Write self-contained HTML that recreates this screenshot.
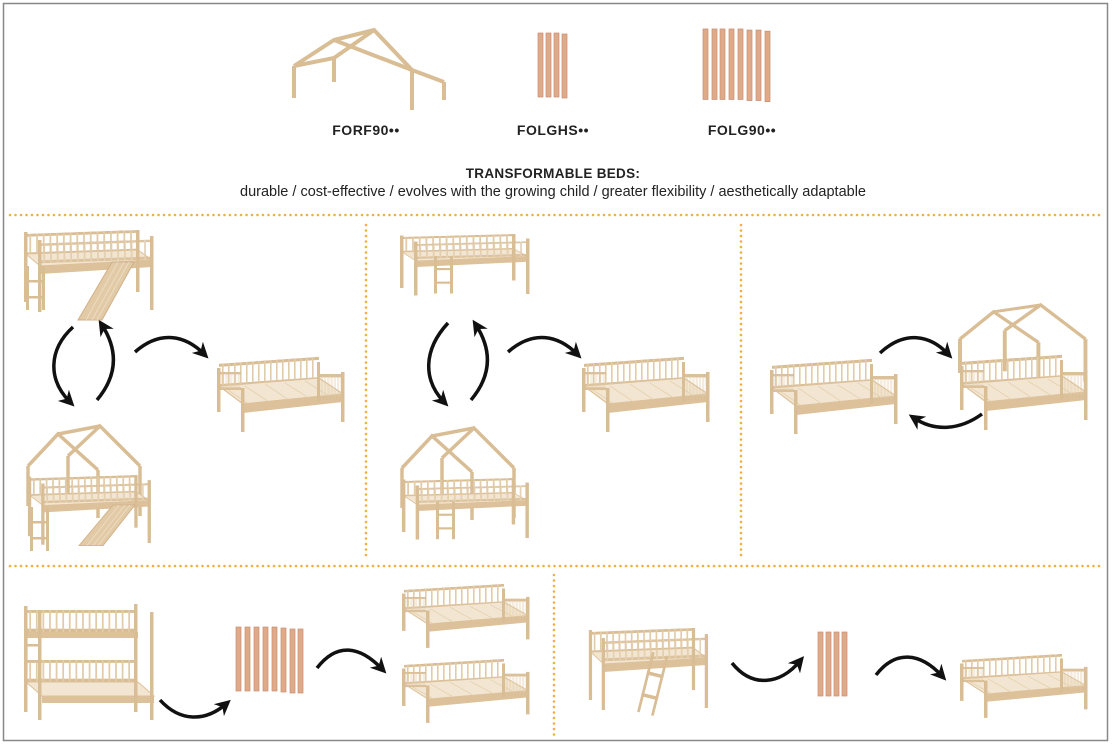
<!DOCTYPE html>
<html><head><meta charset="utf-8"><style>
html,body{margin:0;padding:0;background:#fff;}
body{width:1116px;height:752px;overflow:hidden;position:relative;font-family:"Liberation Sans",sans-serif;}
svg{position:absolute;left:0;top:0;}
</style></head><body>
<svg width="1116" height="752" viewBox="0 0 1116 752" xmlns="http://www.w3.org/2000/svg">
<defs>
<symbol id="rail" viewBox="0 0 100 20" preserveAspectRatio="none">
<rect x="0" y="0" width="100" height="2.6" fill="#d9bd95"/>
<rect x="0" y="17" width="100" height="3" fill="#d9bd95"/>
<g fill="#e2cba9">
<rect x="3" y="0" width="1.6" height="20"/><rect x="9" y="0" width="1.6" height="20"/><rect x="15" y="0" width="1.6" height="20"/><rect x="21" y="0" width="1.6" height="20"/><rect x="27" y="0" width="1.6" height="20"/><rect x="33" y="0" width="1.6" height="20"/><rect x="39" y="0" width="1.6" height="20"/><rect x="45" y="0" width="1.6" height="20"/><rect x="51" y="0" width="1.6" height="20"/><rect x="57" y="0" width="1.6" height="20"/><rect x="63" y="0" width="1.6" height="20"/><rect x="69" y="0" width="1.6" height="20"/><rect x="75" y="0" width="1.6" height="20"/><rect x="81" y="0" width="1.6" height="20"/><rect x="87" y="0" width="1.6" height="20"/><rect x="93" y="0" width="1.6" height="20"/>
</g>
</symbol>
<g id="daybed">
<use href="#rail" x="4" y="6" width="100" height="24" transform="skewY(-4)"/>
<polygon points="4,28 104,20 128,36 28,46" fill="#f2e6d2" stroke="#dcc19b" stroke-width="1.2"/>
<g stroke="#e6d2b2" stroke-width="1"><line x1="10" y1="30" x2="34" y2="46"/><line x1="30" y1="28" x2="54" y2="44"/><line x1="50" y1="26" x2="74" y2="42"/><line x1="70" y1="25" x2="94" y2="40"/><line x1="90" y1="23" x2="114" y2="38"/></g>
<polygon points="28,46 128,36 128,44 28,55" fill="#dcc19b"/>
<use href="#rail" x="4" y="14" width="22" height="18"/>
<use href="#rail" x="104" y="16" width="24" height="26"/>
<rect x="2" y="10" width="3.5" height="44" fill="#d9bd95"/>
<rect x="26" y="30" width="3.5" height="44" fill="#d9bd95"/>
<rect x="102" y="4" width="3" height="40" fill="#d9bd95"/>
<rect x="126" y="14" width="3.5" height="50" fill="#d9bd95"/>
</g>
<g id="loft">
<use href="#rail" x="4" y="4" width="112" height="22" transform="skewY(-2)"/>
<polygon points="4,24 116,20 130,30 18,36" fill="#f2e6d2" stroke="#dcc19b" stroke-width="1"/>
<polygon points="18,36 130,30 130,37 18,44" fill="#dcc19b"/>
<use href="#rail" x="18" y="14" width="112" height="20" transform="skewY(-2)" opacity="0.85"/>
<rect x="2" y="2" width="3.5" height="70" fill="#d9bd95"/>
<rect x="16" y="10" width="3.5" height="72" fill="#d9bd95"/>
<rect x="114" y="0" width="3.5" height="62" fill="#d9bd95"/>
<rect x="128" y="6" width="3.5" height="74" fill="#d9bd95"/>
</g>
<g id="slide">
<polygon points="0,0 22,0 -10,58 -34,58" fill="#e2caa6" stroke="#d0b088" stroke-width="1"/>
<g stroke="#ecdcc2" stroke-width="1"><line x1="6" y1="0" x2="-26" y2="58"/><line x1="12" y1="0" x2="-20" y2="58"/><line x1="17" y1="0" x2="-15" y2="58"/></g>
</g>
<g id="ladder" fill="#d9bd95">
<rect x="0" y="0" width="3" height="44"/><rect x="16" y="0" width="3" height="44"/>
<rect x="0" y="14" width="19" height="2.5"/><rect x="0" y="30" width="19" height="2.5"/>
</g>
<g id="roof" fill="none" stroke="#d9bd95" stroke-width="3.5">
<polyline points="0,40 30,8 70,44"/><polyline points="30,8 72,0"/><polyline points="40,30 72,0 112,40"/>
<line x1="0" y1="40" x2="0" y2="80"/><line x1="40" y1="30" x2="40" y2="78"/><line x1="112" y1="40" x2="112" y2="90"/><line x1="70" y1="44" x2="70" y2="92"/>
</g>
<g id="plank"><rect width="5" height="64" fill="#dfaa8a" stroke="#c98e70" stroke-width="0.7"/></g>
<marker id="ah" viewBox="0 0 10 10" refX="6" refY="5" markerWidth="4.5" markerHeight="4.5" orient="auto"><path d="M0,0 L10,5 L0,10 L3,5 z" fill="#111"/></marker>
</defs>

<rect x="3.5" y="3.5" width="1104" height="737" fill="none" stroke="#888" stroke-width="1.5"/>

<g transform="translate(294,30)">
<g fill="none" stroke="#d9bd95" stroke-width="4">
<polyline points="0,36 40,10 80,0 118,40 150,52"/><polyline points="0,36 40,28 80,0"/><line x1="40" y1="10" x2="118" y2="40"/>
<line x1="0" y1="36" x2="0" y2="68"/><line x1="40" y1="28" x2="40" y2="52"/><line x1="118" y1="40" x2="118" y2="80"/><line x1="150" y1="52" x2="150" y2="70"/>
</g>
</g>
<g transform="translate(538,33)"><use href="#plank"/><use href="#plank" x="8"/><use href="#plank" x="16"/><use href="#plank" x="24" y="1"/></g>
<g transform="translate(703,29)"><use href="#plank" transform="scale(1,1.1)"/><use href="#plank" x="9" transform="scale(1,1.1)"/><use href="#plank" x="17" transform="scale(1,1.1)"/><use href="#plank" x="26" transform="scale(1,1.1)"/><use href="#plank" x="35" transform="scale(1,1.1)"/><use href="#plank" x="44" y="1" transform="scale(1,1.1)"/><use href="#plank" x="53" y="1" transform="scale(1,1.1)"/><use href="#plank" x="62" y="2" transform="scale(1,1.1)"/></g>

<g font-family="Liberation Sans, sans-serif" fill="#222" text-anchor="middle">
<text x="366" y="135" font-size="14" font-weight="bold" letter-spacing="0.5">FORF90••</text>
<text x="553" y="135" font-size="14" font-weight="bold" letter-spacing="0.5">FOLGHS••</text>
<text x="742" y="135" font-size="14" font-weight="bold" letter-spacing="0.5">FOLG90••</text>
<text x="553" y="178" font-size="13.5" font-weight="bold" letter-spacing="0.3">TRANSFORMABLE BEDS:</text>
<text x="553" y="196" font-size="14.5">durable / cost-effective / evolves with the growing child / greater flexibility / aesthetically adaptable</text>
</g>

<g stroke="#f0b040" stroke-width="2.6" stroke-linecap="round" stroke-dasharray="0 5.5" fill="none">
<line x1="10" y1="215" x2="1100" y2="215"/>
<line x1="366" y1="225" x2="366" y2="560"/>
<line x1="741" y1="225" x2="741" y2="560"/>
<line x1="10" y1="566" x2="1100" y2="566"/>
<line x1="554" y1="575" x2="554" y2="735"/>
</g>

<g fill="none" stroke="#111" stroke-width="3.5" marker-end="url(#ah)">
<path d="M73,327 C48,350 48,380 70,402"/>
<path d="M97,400 C118,375 118,350 102,325"/>
<path d="M135,352 C160,330 185,335 204,354"/>
<path d="M448,323 C423,350 423,380 444,402"/>
<path d="M471,400 C492,375 492,350 476,325"/>
<path d="M508,352 C533,330 558,335 577,354"/>
<path d="M880,353 C905,330 930,335 948,354"/>
<path d="M982,414 C960,430 935,432 914,418"/>
<path d="M160,700 C180,722 205,722 226,704"/>
<path d="M317,668 C337,642 360,646 382,669"/>
<path d="M732,663 C752,688 780,685 800,661"/>
<path d="M876,675 C895,650 920,652 942,676"/>
</g>

<g transform="translate(22,230)"><use href="#loft"/><use href="#ladder" x="4" y="36"/></g>
<g transform="translate(112,262)"><use href="#slide"/></g>
<g transform="translate(215,358)"><use href="#daybed"/></g>
<g transform="translate(28,426)"><use href="#roof"/></g>
<g transform="translate(26,475)"><use href="#loft" transform="scale(0.95,0.85)"/><use href="#ladder" x="4" y="32"/></g>
<g transform="translate(113,505)"><use href="#slide" transform="scale(1,0.7)"/></g>

<g transform="translate(398,234)"><use href="#loft" transform="scale(1,0.75)"/><use href="#ladder" x="36" y="26" transform="scale(1,0.85)"/></g>
<g transform="translate(580,358)"><use href="#daybed"/></g>
<g transform="translate(402,428)"><use href="#roof"/></g>
<g transform="translate(400,478)"><use href="#loft" transform="scale(0.98,0.75)"/><use href="#ladder" x="36" y="28" transform="scale(1,0.85)"/></g>

<g transform="translate(768,360)"><use href="#daybed"/></g>
<g transform="translate(960,305)"><use href="#roof" transform="scale(1.12,0.85)"/></g>
<g transform="translate(958,356)"><use href="#daybed"/></g>

<g transform="translate(22,606)">
<use href="#rail" x="4" y="4" width="110" height="22"/>
<rect x="4" y="26" width="112" height="6" fill="#dcc19b"/>
<use href="#rail" x="4" y="54" width="110" height="22"/>
<polygon points="4,76 116,76 132,90 20,90" fill="#f2e6d2" stroke="#dcc19b"/>
<rect x="20" y="90" width="112" height="7" fill="#dcc19b"/>
<rect x="2" y="0" width="3.5" height="106" fill="#d9bd95"/><rect x="16" y="6" width="3.5" height="108" fill="#d9bd95"/>
<rect x="112" y="-2" width="3.5" height="108" fill="#d9bd95"/><rect x="128" y="6" width="3.5" height="108" fill="#d9bd95"/>
<use href="#ladder" x="4" y="24" transform="scale(0.8,1)"/>
</g>
<g transform="translate(236,627)"><use href="#plank"/><use href="#plank" x="9"/><use href="#plank" x="18"/><use href="#plank" x="27"/><use href="#plank" x="36"/><use href="#plank" x="45" y="1"/><use href="#plank" x="54" y="2"/><use href="#plank" x="62" y="2"/></g>
<g transform="translate(400,585)"><use href="#daybed" transform="scale(1,0.85)"/></g>
<g transform="translate(400,660)"><use href="#daybed" transform="scale(1,0.85)"/></g>

<g transform="translate(587,628)"><use href="#loft" transform="scale(0.92,1)"/></g>
<g transform="translate(652,652)"><g transform="rotate(14)"><use href="#ladder" transform="scale(0.9,1.4)"/></g></g>
<g transform="translate(818,632)"><use href="#plank"/><use href="#plank" x="8"/><use href="#plank" x="16"/><use href="#plank" x="24"/></g>
<g transform="translate(958,655)"><use href="#daybed" transform="scale(1,0.85)"/></g>
</svg>
</body></html>
